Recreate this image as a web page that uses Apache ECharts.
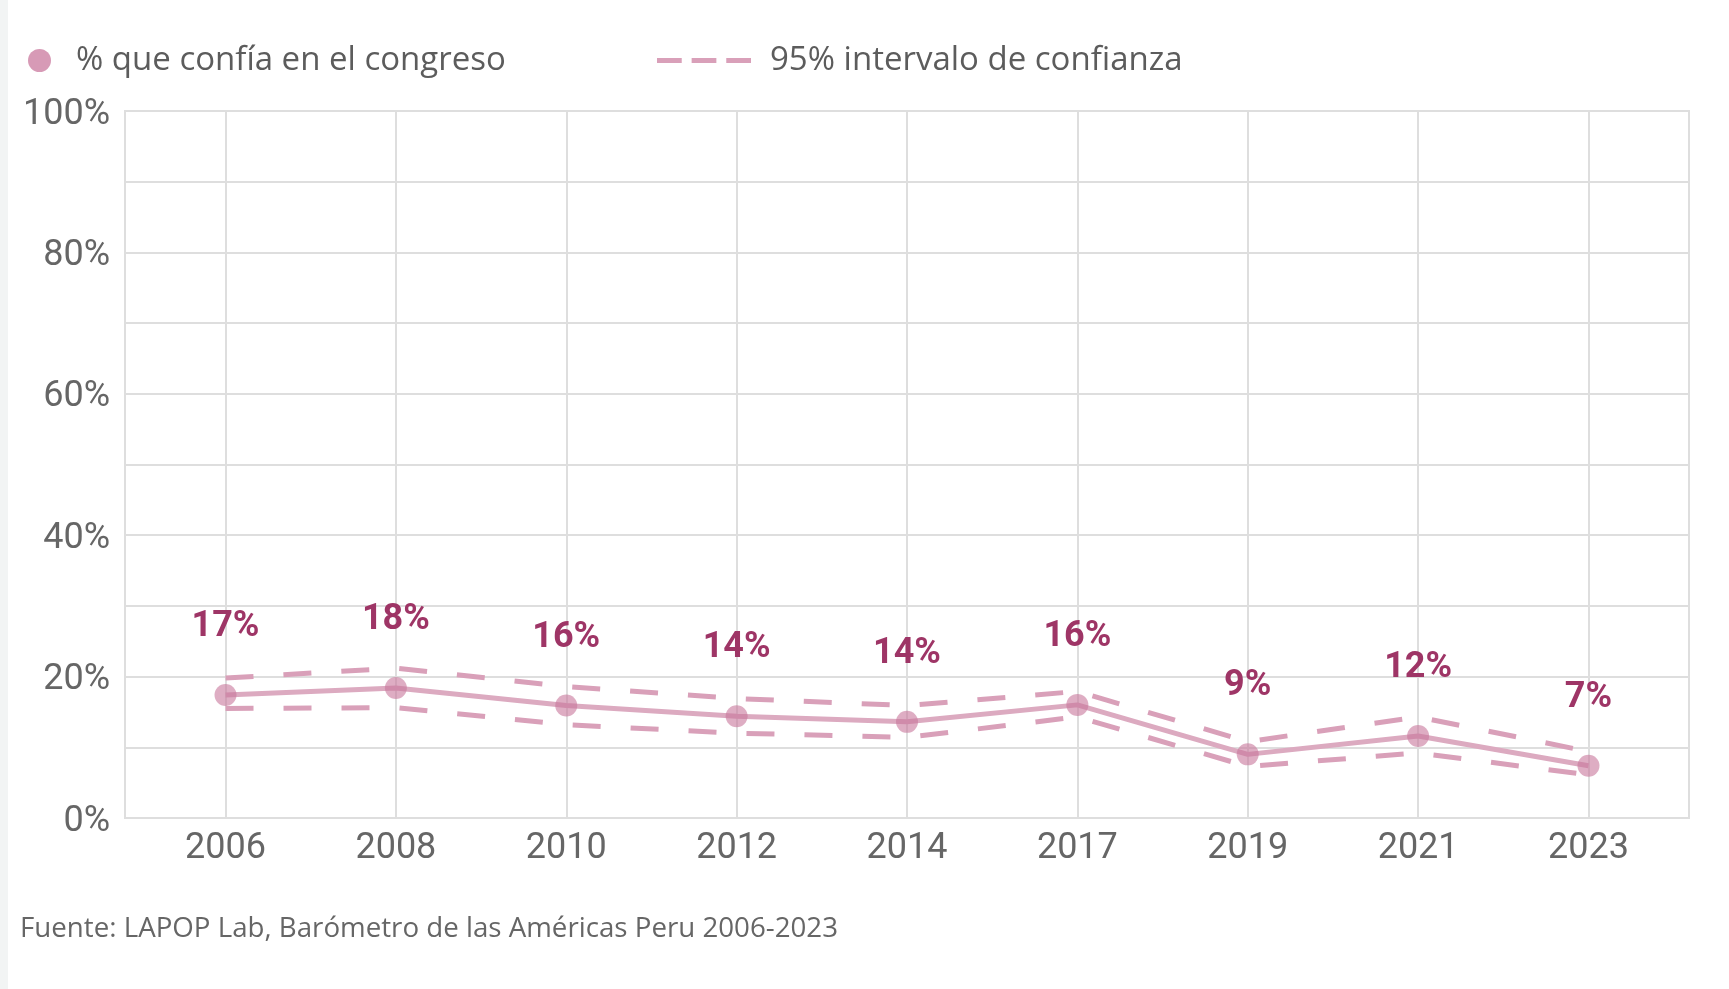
<!DOCTYPE html>
<html>
<head>
<meta charset="utf-8">
<script src="https://cdn.jsdelivr.net/npm/echarts@6/dist/echarts.min.js"></script>
<style>
  html, body { margin: 0; padding: 0; background: #f2f4f4; }
  #wrap { position: absolute; left: 8px; top: 0; width: 1721px; height: 989px; background: #ffffff; }
  #chart { position: absolute; left: -8px; top: 0; width: 1729px; height: 989px; }
</style>
</head>
<body>
<div id="wrap"><div id="chart"></div></div>
<script>
const years = ['2006', '2008', '2010', '2012', '2014', '2017', '2019', '2021', '2023'];
const trustValues = [17.4, 18.4, 15.9, 14.4, 13.6, 16.0, 9.0, 11.6, 7.4];
const upperCI = [19.8, 21.2, 18.6, 16.9, 15.9, 17.9, 10.8, 14.3, 9.4];
const lowerCI = [15.5, 15.6, 13.2, 12.0, 11.4, 14.3, 7.3, 9.2, 6.1];
const yTickLabels = [0, 20, 40, 60, 80, 100];
const mainName = '% que confía en el congreso';
const ciName = '95% intervalo de confianza';
const sourceText = 'Fuente: LAPOP Lab, Barómetro de las Américas Peru 2006-2023';

const pair = arr => arr.map((v, i) => [i, v]);
const idx = years.map((_, i) => i);

const chart = echarts.init(document.getElementById('chart'), null, { renderer: 'canvas' });
const gridColor = '#dedede';
const lineColor = '#dcaac0';
const dashColor = '#d9a0b9';

chart.setOption({
  animation: false,
  backgroundColor: 'transparent',
  title: {
    text: sourceText,
    left: 15,
    top: 910,
    textStyle: { fontFamily: 'Open Sans', fontSize: 27.7, fontWeight: 'normal', color: '#666666' }
  },
  legend: [
    {
      left: 23, top: 39,
      itemWidth: 23, itemHeight: 23,
      data: [{ name: mainName, icon: 'circle', itemStyle: { color: '#d79ab6' } }],
      textStyle: { fontFamily: 'Open Sans', fontSize: 33, color: '#5c5c5c', padding: [0, 0, 0, 20] },
      selectedMode: false
    },
    {
      left: 652, top: 39,
      itemWidth: 94, itemHeight: 5,
      data: [{ name: ciName, icon: 'path://M0,0h25v5h-25zM35,0h25v5h-25zM70,0h25v5h-25z', itemStyle: { color: '#d9a0b9' } }],
      textStyle: { fontFamily: 'Open Sans', fontSize: 33, color: '#5c5c5c', padding: [0, 0, 0, 14] },
      selectedMode: false
    }
  ],
  grid: {
    left: 125, right: 40, top: 111, bottom: 171,
    show: true, borderColor: gridColor, borderWidth: 2,
    containLabel: false
  },
  xAxis: {
    type: 'value',
    min: -0.59, max: 8.59,
    axisLine: { show: false },
    axisTick: { show: false, customValues: idx },
    splitLine: { show: true, lineStyle: { color: gridColor, width: 2 } },
    axisLabel: {
      customValues: idx,
      formatter: v => years[Math.round(v)],
      fontFamily: 'Roboto', fontSize: 36, color: '#666666', margin: 13
    }
  },
  yAxis: {
    type: 'value',
    min: 0, max: 100, interval: 10,
    axisLine: { show: false },
    axisTick: { show: false },
    splitLine: { show: true, lineStyle: { color: gridColor, width: 2 } },
    axisLabel: {
      formatter: v => yTickLabels.includes(v) ? '{t|' + v + '%}' : '',
      margin: 15,
      rich: {
        t: { fontFamily: 'Roboto', fontSize: 36, color: '#666666', padding: [7, 0, 0, 0] }
      }
    }
  },
  series: [
    {
      name: ciName, type: 'line', data: pair(upperCI),
      symbol: 'none', z: 2,
      lineStyle: { color: dashColor, width: 5, type: [28, 30] },
      itemStyle: { color: dashColor }
    },
    {
      name: ciName, type: 'line', data: pair(lowerCI),
      symbol: 'none', z: 2,
      lineStyle: { color: dashColor, width: 5, type: [28, 30] },
      itemStyle: { color: dashColor }
    },
    {
      name: mainName, type: 'line', data: pair(trustValues),
      symbol: 'circle', symbolSize: 22, z: 3,
      lineStyle: { color: lineColor, width: 5 },
      itemStyle: { color: 'rgba(200,118,155,0.6)' },
      label: {
        show: true, position: 'top', distance: 39,
        formatter: p => Math.round(p.value[1]) + '%',
        fontFamily: 'Roboto', fontSize: 36, fontWeight: 'bold', color: '#9e3566'
      }
    }
  ]
});
</script>
</body>
</html>
